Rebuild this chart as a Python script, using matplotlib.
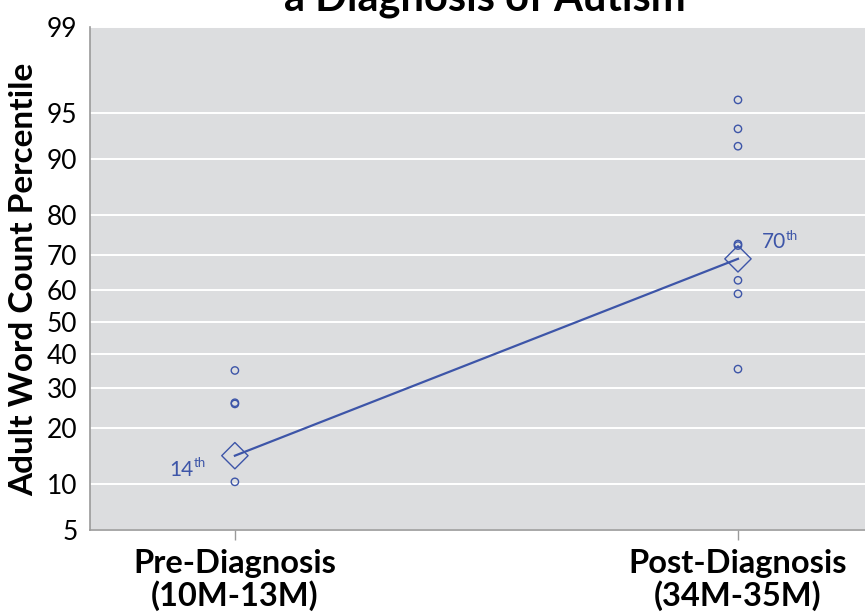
import numpy as np
import matplotlib
matplotlib.use("Agg")
import matplotlib.pyplot as plt
from statistics import NormalDist

# data
groups = ["Pre-Diagnosis\n(10M-13M)", "Post-Diagnosis\n(34M-35M)"]
pre_children = [35.0, 26.1, 25.8, 10.3]
post_children = [96.0, 93.6, 91.7, 73.0, 72.6, 62.8, 58.7, 35.4]
avg_pct = [14.5, 69.0]
avg_labels = ["14", "70"]
yticks = [5, 10, 20, 30, 40, 50, 60, 70, 80, 90, 95, 99]

blue = "#3D55A8"
grey_bg = "#DCDDDF"

nd = NormalDist()


def _f(p):
    if not np.isfinite(p):
        return np.nan
    return nd.inv_cdf(min(max(p / 100.0, 1e-9), 1 - 1e-9))


def _i(z):
    if not np.isfinite(z):
        return np.nan
    return nd.cdf(z) * 100.0


_fwd = np.vectorize(_f, otypes=[float])
_inv = np.vectorize(_i, otypes=[float])


def fwd(p):
    return _fwd(np.asarray(p, dtype=float))


def inv(z):
    return _inv(np.asarray(z, dtype=float))


plt.rcParams["font.family"] = ["Lato", "DejaVu Sans"]

fig = plt.figure(figsize=(8.65, 6.12), dpi=100)
ax = fig.add_axes([90 / 865, 82 / 612, 775 / 865, 503 / 612])
ax.set_facecolor(grey_bg)
ax.set_yscale("function", functions=(fwd, inv))
ax.set_ylim(5, 99)
ax.set_xlim(-0.288, 1.2525)
ax.set_yticks(yticks)
ax.set_yticklabels([str(t) for t in yticks], fontsize=19)
ax.yaxis.set_minor_locator(matplotlib.ticker.NullLocator())
ax.grid(axis="y", color="white", linewidth=1.4)
ax.set_axisbelow(True)

for s in ["top", "right"]:
    ax.spines[s].set_visible(False)
for s in ["left", "bottom"]:
    ax.spines[s].set_color("#9A9A9A")
    ax.spines[s].set_linewidth(1.2)

ax.tick_params(axis="y", length=0, pad=9)
ax.tick_params(axis="x", length=7, color="#9A9A9A", width=1, pad=7)
ax.set_xticks([0, 1])
ax.set_xticklabels(groups, fontsize=23.5, fontweight="bold", linespacing=1.08)

fig.text(24 / 865, 1 - 279 / 612, "Adult Word Count Percentile", rotation=90,
         ha="center", va="center", fontsize=24, fontweight="bold")

# individual children
ax.scatter(np.zeros(len(pre_children)), pre_children, s=28, facecolors="none",
           edgecolors=blue, linewidths=1.0, zorder=3)
ax.scatter(np.ones(len(post_children)), post_children, s=28, facecolors="none",
           edgecolors=blue, linewidths=1.0, zorder=3)

# average line and diamonds
ax.plot([0, 1], avg_pct, color=blue, linewidth=1.6, zorder=4)
ax.scatter([0, 1], avg_pct, marker="D", s=180, facecolors="none",
           edgecolors=blue, linewidths=1.0, zorder=4)

ax.annotate(avg_labels[0], (0, avg_pct[0]), xytext=(-47, -14.5), textcoords="offset points",
            color=blue, fontsize=15, va="baseline")
ax.annotate("th", (0, avg_pct[0]), xytext=(-29.5, -8), textcoords="offset points",
            color=blue, fontsize=9.5, va="baseline")
ax.annotate(avg_labels[1], (1, avg_pct[1]), xytext=(17, 8), textcoords="offset points",
            color=blue, fontsize=15, va="baseline")
ax.annotate("th", (1, avg_pct[1]), xytext=(34.5, 13.5), textcoords="offset points",
            color=blue, fontsize=9.5, va="baseline")

fig.text(485 / 865, 1 - 11 / 612, "a Diagnosis of Autism", ha="center", va="baseline",
         fontsize=30, fontweight="bold")

fig.savefig("out.png", dpi=100)
